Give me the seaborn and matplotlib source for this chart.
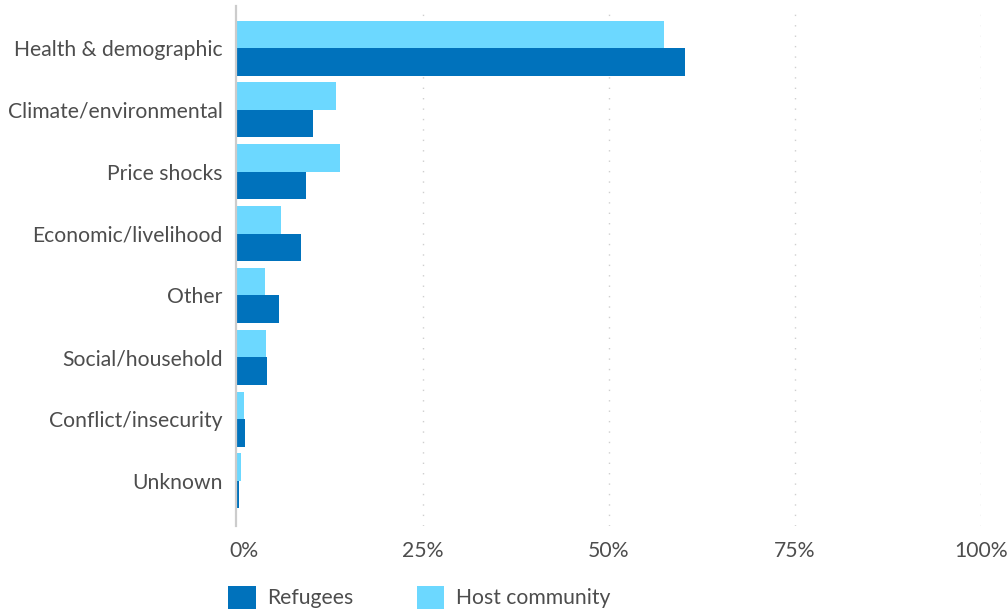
import matplotlib
matplotlib.use("Agg")
import matplotlib.pyplot as plt
import matplotlib.transforms as mtransforms
import seaborn as sns
import pandas as pd
from matplotlib.patches import Patch
from matplotlib.ticker import FuncFormatter

categories = ["Health & demographic", "Climate/environmental", "Price shocks",
              "Economic/livelihood", "Other", "Social/household",
              "Conflict/insecurity", "Unknown"]
refugees = [60.3, 10.3, 9.3, 8.7, 5.7, 4.1, 1.1, 0.3]
host_community = [57.5, 13.4, 13.9, 6.0, 3.8, 4.0, 1.0, 0.6]
x_ticks = [0, 25, 50, 75, 100]

df = pd.DataFrame({
    "category": categories * 2,
    "value": host_community + refugees,
    "group": ["Host community"] * len(categories) + ["Refugees"] * len(categories),
})

sns.set_theme(style="white")
plt.rcParams["font.family"] = ["Lato", "DejaVu Sans"]

c_ref = "#0072BC"
c_host = "#6CD8FF"
txt = "#4d4d4d"
fs = 15.2

fig = plt.figure(figsize=(10.08, 6.11), dpi=100)
ax = fig.add_axes([0.2346, 0.1391, 0.9729 - 0.2346, 0.9902 - 0.1391])

sns.barplot(data=df, y="category", x="value", hue="group",
            hue_order=["Host community", "Refugees"],
            palette={"Host community": c_host, "Refugees": c_ref},
            orient="h", width=0.89, gap=0, saturation=1, ax=ax,
            legend=False, errorbar=None, linewidth=0)

ax.set_xlim(0, 100)
ax.set_ylim(7.73, -0.68)
ax.set_xticks(x_ticks)
ax.xaxis.set_major_formatter(FuncFormatter(lambda v, p: f"{v:.0f}%"))
ax.set_xlabel("")
ax.set_ylabel("")
for s in ["top", "right", "bottom"]:
    ax.spines[s].set_visible(False)
ax.spines["left"].set_color("#cccccc")
ax.spines["left"].set_linewidth(1.6)
ax.spines["left"].set_zorder(5)

for xv in x_ticks[1:]:
    ax.axvline(xv, color="#cfcfcf", lw=1.0, linestyle=(0, (1, 6.5)), zorder=0)

ax.tick_params(axis="both", length=0, labelsize=fs, labelcolor=txt)
ax.tick_params(axis="y", pad=10)
ax.tick_params(axis="x", pad=11)

fig.canvas.draw()
offset = mtransforms.ScaledTranslation(0.07, 0, fig.dpi_scale_trans)
lab0 = ax.xaxis.get_major_ticks()[0].label1
lab0.set_transform(lab0.get_transform() + offset)

handles = [Patch(facecolor=c_ref, edgecolor="none", label="Refugees"),
           Patch(facecolor=c_host, edgecolor="none", label="Host community")]
fig.legend(handles=handles, loc="lower left", bbox_to_anchor=(0.218, -0.010),
           ncol=2, frameon=False, fontsize=fs, labelcolor=txt,
           handlelength=1.3, handleheight=1.3, handletextpad=0.55,
           columnspacing=3.0, borderaxespad=0)

fig.savefig("out.png", dpi=100)
